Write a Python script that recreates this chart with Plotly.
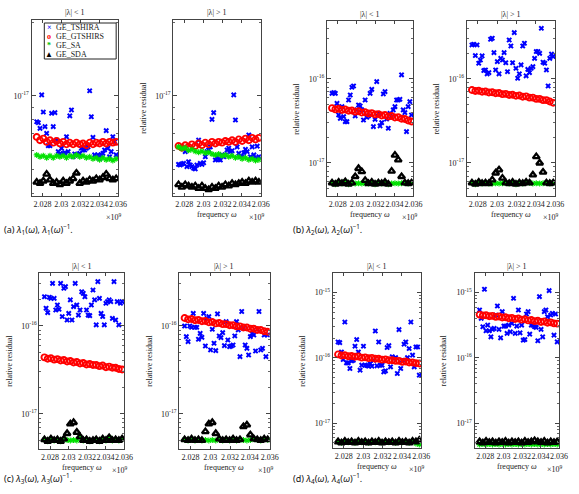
import plotly.graph_objects as go

W, H = 579, 494
SERIF = "Liberation Serif"
SANS = "Noto Sans"

# ---------------- data ----------------
freq_blue = [2.027400, 2.027575, 2.027750, 2.027925, 2.028100, 2.028275, 2.028450, 2.028625,
             2.028800, 2.028975, 2.029150, 2.029325, 2.029500, 2.029675, 2.029850, 2.030025,
             2.030200, 2.030375, 2.030550, 2.030725, 2.030900, 2.031075, 2.031250, 2.031425,
             2.031600, 2.031775, 2.031950, 2.032125, 2.032300, 2.032475, 2.032650, 2.032825,
             2.033000, 2.033175, 2.033350, 2.033525, 2.033700, 2.033875, 2.034050, 2.034225,
             2.034400, 2.034575, 2.034750, 2.034925, 2.035100, 2.035275, 2.035450, 2.035625,
             2.035800]
freq_band = [2.02740, 2.02775, 2.02810, 2.02845, 2.02880, 2.02915, 2.02950, 2.02985, 2.03020,
             2.03055, 2.03090, 2.03125, 2.03160, 2.03195, 2.03230, 2.03265, 2.03300, 2.03335,
             2.03370, 2.03405, 2.03440, 2.03475, 2.03510, 2.03545, 2.03580]

# (a) lambda_1, |lambda|<1   (units 1e-18)
tshira_a_lt = [7.85, 7.78, 7.38, 10.1, 8.6, 7.5, 7.04, 6.27, 6.27, 8.5,
               7.5, 8.55, 6.61, 5.93, 5.8, 6.12, 5.83, 5.86, 6.82, 5.93,
               8.3, 8.77, 5.65, 5.8, 5.75, 5.75, 5.83, 6.12, 6.02, 6.02,
               6.12, 6.2, 10.5, 8.23, 6.78, 5.75, 5.65, 5.75, 5.56, 5.75,
               5.83, 6.02, 7.22, 6.12, 5.65, 5.93, 6.82, 6.51, 5.75]
gtshirs_a_lt = [6.8, 6.6, 6.7, 6.5, 6.6, 6.45, 6.55, 6.4, 6.5, 6.35, 6.45, 6.35, 6.45,
                6.35, 6.4, 6.3, 6.45, 6.35, 6.45, 6.4, 6.5, 6.4, 6.5, 6.45, 6.5]
sa_a_lt = [5.75, 5.65, 5.7, 5.6, 5.7, 5.6, 5.7, 5.65, 5.7, 5.6, 5.7, 5.65, 5.75,
           5.65, 5.7, 5.6, 5.65, 5.55, 5.6, 5.5, 5.6, 5.5, 5.55, 5.45, 5.55]
sda_a_lt = [4.45, 4.4, 4.5, 4.8, 4.55, 4.4, 4.45, 4.35, 4.5, 4.4, 4.5, 4.6, 4.85,
            4.4, 4.5, 4.45, 4.55, 4.5, 4.6, 4.55, 4.65, 4.8, 4.6, 4.55, 4.6]

# (a) lambda_1, |lambda|>1   (units 1e-18)
tshira_a_gt = [5.26, 5.23, 5.28, 5.31, 5.93, 5.15, 5.39, 5.23, 5.15, 5.07,
               5.04, 5.23, 6.61, 5.31, 5.26, 5.34, 5.65, 5.93, 6.02, 6.2,
               8.03, 8.55, 5.48, 5.65, 5.51, 5.48, 5.75, 5.65, 5.75, 6.02,
               6.12, 5.93, 5.98, 10.1, 7.98, 6.2, 5.83, 5.65, 5.65, 5.87,
               6.06, 5.93, 6.93, 5.65, 6.2, 5.75, 5.56, 6.24, 5.65]
gtshirs_a_gt = [6.25, 6.15, 6.3, 6.2, 6.35, 6.25, 6.4, 6.3, 6.45, 6.35, 6.5, 6.4, 6.5,
                6.45, 6.55, 6.5, 6.6, 6.5, 6.65, 6.55, 6.7, 6.6, 6.75, 6.65, 6.75]
sa_a_gt = [6.2, 6.1, 6.15, 6.0, 6.05, 5.95, 5.9, 5.95, 5.85, 5.9, 5.8, 5.75, 5.8,
           5.7, 5.75, 5.65, 5.7, 5.6, 5.65, 5.55, 5.6, 5.5, 5.55, 5.45, 5.5]
sda_a_gt = [4.35, 4.25, 4.35, 4.3, 4.25, 4.3, 4.2, 4.3, 4.2, 4.15, 4.25, 4.2, 4.3,
            4.25, 4.35, 4.3, 4.4, 4.35, 4.4, 4.45, 4.4, 4.5, 4.45, 4.5, 4.45]

# (b) lambda_2, |lambda|<1   (units 1e-17)
tshira_b_lt = [6.75, 6.88, 6.75, 5.13, 3.73, 3.4, 4.69, 3.56, 3.11, 3.11,
               5.62, 6.45, 7.96, 8.25, 3.63, 4.28, 4.9, 4.77, 4.28, 3.25,
               5.62, 3.5, 3.63, 6.75, 7.53, 2.71, 3.31, 9.3, 3.9, 2.76,
               3.02, 6.63, 7.07, 3.34, 2.59, 3.9, 3.5, 4.28, 4.69, 5.62,
               5.62, 5.73, 11.2, 4.28, 3.97, 2.36, 4.69, 5.37, 3.73]
gtshirs_b_lt = [4.5, 4.35, 4.42, 4.28, 4.33, 4.18, 4.22, 4.08, 4.12, 3.98, 4.02, 3.88, 3.92,
                3.78, 3.82, 3.68, 3.72, 3.58, 3.62, 3.48, 3.5, 3.36, 3.34, 3.2, 3.12]
sa_b_lt = [0.58, 0.56, 0.59, 0.57, 0.6, 0.56, 0.58, 0.57, 0.575, 0.57, 0.575, 0.57, 0.59,
           0.56, 0.58, 0.57, 0.59, 0.56, 0.57, 0.575, 0.57, 0.575, 0.58, 0.57, 0.58]
sda_b_lt = [0.58, 0.56, 0.59, 0.57, 0.6, 0.56, 0.58, 0.69, 0.86, 0.79, 0.62, 0.57, 0.59,
            0.56, 0.58, 0.57, 0.59, 0.56, 0.8, 1.24, 1.09, 0.69, 0.58, 0.57, 0.58]

# (b) lambda_2, |lambda|>1   (units 1e-16)
tshira_b_gt = [2.54, 2.59, 1.90, 2.54, 1.54, 1.68, 1.88, 1.26, 1.28, 1.15,
               1.19, 2.97, 3.05, 2.06, 1.28, 1.61, 1.15, 1.76, 1.68, 2.06,
               1.56, 1.22, 2.91, 2.47, 1.56, 3.56, 1.34, 1.02, 1.15, 1.47,
               2.47, 2.66, 1.09, 1.30, 1.19, 1.34, 1.40, 1.76, 2.12, 2.12,
               2.02, 4.01, 1.58, 1.54, 1.28, 0.825, 1.76, 1.98, 1.85]
gtshirs_b_gt = [0.74, 0.72, 0.725, 0.705, 0.71, 0.69, 0.695, 0.675, 0.68, 0.66, 0.665, 0.645, 0.65,
                0.63, 0.635, 0.615, 0.62, 0.6, 0.6, 0.58, 0.58, 0.56, 0.56, 0.54, 0.52]
sa_b_gt = [0.058, 0.056, 0.059, 0.057, 0.058, 0.057, 0.057, 0.0575, 0.057, 0.0575, 0.058, 0.057, 0.059,
           0.056, 0.058, 0.057, 0.059, 0.058, 0.057, 0.0575, 0.057, 0.0575, 0.058, 0.057, 0.058]
sda_b_gt = [0.058, 0.056, 0.059, 0.057, 0.058, 0.057, 0.063, 0.076, 0.083, 0.066, 0.058, 0.057, 0.059,
            0.056, 0.058, 0.057, 0.059, 0.058, 0.072, 0.119, 0.100, 0.078, 0.058, 0.057, 0.058]

# (c) lambda_3, |lambda|<1   (units 1e-16)
tshira_c_lt = [2.15, 1.59, 1.42, 2.12, 2.06, 3.05, 2.06, 1.52, 1.73, 1.55,
               3.05, 1.28, 2.68, 2.80, 1.17, 1.39, 1.98, 1.17, 1.66, 3.05,
               1.73, 1.33, 1.52, 2.45, 2.35, 2.15, 1.52, 1.33, 1.31, 1.73,
               2.56, 1.98, 1.03, 3.19, 2.06, 1.39, 1.28, 1.03, 1.81, 1.89,
               1.98, 1.89, 1.22, 3.19, 1.17, 1.89, 1.03, 1.81, 1.89]
gtshirs_c_lt = [0.44, 0.425, 0.43, 0.415, 0.42, 0.405, 0.41, 0.395, 0.4, 0.385, 0.39, 0.375, 0.38,
                0.365, 0.37, 0.36, 0.36, 0.35, 0.355, 0.34, 0.345, 0.335, 0.335, 0.325, 0.32]
sa_c_lt = [0.051, 0.049, 0.052, 0.05, 0.051, 0.049, 0.052, 0.0505, 0.05, 0.0505, 0.05, 0.055, 0.05,
           0.051, 0.049, 0.05, 0.051, 0.049, 0.052, 0.05, 0.054, 0.05, 0.051, 0.05, 0.052]
sda_c_lt = [0.051, 0.049, 0.052, 0.05, 0.051, 0.049, 0.052, 0.06, 0.077, 0.08, 0.062, 0.055, 0.05,
            0.051, 0.049, 0.05, 0.051, 0.049, 0.052, 0.05, 0.054, 0.05, 0.051, 0.05, 0.052]

# (c) lambda_3, |lambda|>1   (units 1e-17)
tshira_c_gt = [10.0, 7.56, 6.64, 10.0, 9.66, 13.9, 9.66, 9.66, 7.06, 8.25,
               7.43, 13.9, 5.92, 12.2, 12.8, 5.34, 9.17, 6.36, 5.24, 13.7,
               7.7, 7.37, 8.4, 5.98, 11.2, 6.93, 5.82, 5.92, 6.08, 7.7,
               11.2, 9.01, 4.48, 14.6, 9.41, 6.08, 5.57, 4.68, 7.56, 8.25,
               7.9, 5.2, 9.17, 14.6, 5.34, 5.57, 7.9, 4.48, 7.9]
gtshirs_c_gt = [12.3, 11.9, 12.0, 11.6, 11.7, 11.3, 11.4, 11.0, 11.1, 10.7, 10.8, 10.5, 10.5,
                10.2, 10.2, 9.9, 9.9, 9.6, 9.6, 9.3, 9.3, 9.0, 9.0, 8.7, 8.6]
sa_c_gt = [0.51, 0.5, 0.52, 0.5, 0.51, 0.5, 0.505, 0.5, 0.505, 0.5, 0.52, 0.5, 0.51,
           0.5, 0.52, 0.5, 0.51, 0.505, 0.5, 0.505, 0.52, 0.51, 0.5, 0.52, 0.51]
sda_c_gt = [0.51, 0.5, 0.52, 0.5, 0.51, 0.5, 0.63, 0.77, 0.8, 0.6, 0.52, 0.5, 0.51,
            0.5, 0.52, 0.5, 0.51, 0.72, 0.75, 0.58, 0.52, 0.51, 0.5, 0.52, 0.51]

# (d) lambda_4, |lambda|<1   (units 1e-16)
tshira_d_lt = [1.75, 1.71, 1.23, 0.943, 3.54, 0.839, 0.839, 0.687, 0.9, 0.921,
               1.51, 1.91, 1.23, 0.648, 0.773, 1.51, 0.773, 0.764, 0.746, 0.819,
               0.746, 0.921, 2.58, 0.755, 1.75, 0.773, 0.773, 0.611, 0.633, 1.44,
               1.54, 0.729, 1.04, 0.977, 1.01, 0.576, 2.71, 0.687, 0.921, 1.62,
               1.75, 1.01, 1.39, 3.54, 1.10, 0.729, 1.47, 1.47, 0.544]
gtshirs_d_lt = [1.13, 1.09, 1.1, 1.06, 1.07, 1.04, 1.05, 1.01, 1.02, 0.99, 1.0, 0.97, 0.97,
                0.94, 0.95, 0.92, 0.92, 0.9, 0.9, 0.87, 0.88, 0.85, 0.85, 0.83, 0.82]
sa_d_lt = [0.052, 0.05, 0.053, 0.051, 0.052, 0.05, 0.053, 0.051, 0.052, 0.05, 0.052, 0.051, 0.053,
           0.05, 0.052, 0.051, 0.052, 0.05, 0.053, 0.051, 0.052, 0.05, 0.053, 0.049, 0.047]
sda_d_lt = [0.052, 0.05, 0.053, 0.051, 0.052, 0.05, 0.053, 0.051, 0.052, 0.05, 0.052, 0.051, 0.053,
            0.05, 0.052, 0.051, 0.052, 0.05, 0.053, 0.051, 0.052, 0.05, 0.053, 0.052, 0.055]

# (d) lambda_4, |lambda|>1   (units 1e-16)
tshira_d_gt = [5.41, 4.03, 3.0, 11.25, 2.6, 3.18, 2.6, 2.1, 2.73, 2.83,
               4.53, 6.23, 2.73, 2.03, 5.1, 3.07, 3.07, 2.37, 3.18, 2.51,
               3.38, 8.18, 2.37, 3.07, 5.41, 2.42, 3.18, 1.87, 1.91, 4.7,
               5.1, 2.31, 3.18, 3.18, 3.0, 2.93, 1.83, 8.68, 2.73, 2.1,
               5.1, 5.41, 4.27, 10.7, 4.53, 4.81, 2.23, 4.7, 1.76]
gtshirs_d_gt = [4.6, 4.45, 4.5, 4.35, 4.4, 4.25, 4.3, 4.15, 4.2, 4.05, 4.1, 3.95, 4.0,
                3.85, 3.9, 3.75, 3.8, 3.65, 3.7, 3.55, 3.6, 3.45, 3.5, 3.38, 3.35]
sa_d_gt = [0.047, 0.048, 0.047, 0.048, 0.047, 0.048, 0.047, 0.048, 0.047, 0.048, 0.047, 0.048, 0.047,
           0.048, 0.047, 0.048, 0.047, 0.048, 0.047, 0.048, 0.047, 0.048, 0.047, 0.048, 0.047]
sda_d_gt = [0.052, 0.05, 0.053, 0.051, 0.052, 0.05, 0.052, 0.051, 0.053, 0.05, 0.052, 0.051, 0.052,
            0.05, 0.053, 0.051, 0.052, 0.054, 0.052, 0.051, 0.053, 0.05, 0.052, 0.051, 0.052]

x_tickvals = [2.028, 2.030, 2.032, 2.034, 2.036]
x_ticktext = ["2.028", "2.03", "2.032", "2.034", "2.036"]
series_names = ["GE_TSHIRA", "GE_GTSHIRS", "GE_SA", "GE_SDA"]

# ---------------- layout of panels (pixel boxes) ----------------
panels = [
    dict(box=(32, 20, 120, 196), yr=(-17.408, -16.69), ydec=[-17], unit=1e-18, title="|λ| < 1",
         ylab=False, xlab=False, data=(tshira_a_lt, gtshirs_a_lt, sa_a_lt, sda_a_lt)),
    dict(box=(176, 20, 265, 196), yr=(-17.408, -16.69), ydec=[-17], unit=1e-18, title="|λ| > 1",
         ylab=True, xlab=True, data=(tshira_a_gt, gtshirs_a_gt, sa_a_gt, sda_a_gt)),
    dict(box=(332, 21, 420, 196), yr=(-17.393, -15.31), ydec=[-17, -16], unit=1e-17, title="|λ| < 1",
         ylab=True, xlab=True, data=(tshira_b_lt, gtshirs_b_lt, sa_b_lt, sda_b_lt)),
    dict(box=(474, 21, 564, 196), yr=(-17.393, -15.31), ydec=[-17, -16], unit=1e-16, title="|λ| > 1",
         ylab=True, xlab=True, data=(tshira_b_gt, gtshirs_b_gt, sa_b_gt, sda_b_gt)),
    dict(box=(40, 273, 126, 449), yr=(-17.398, -15.398), ydec=[-17, -16], unit=1e-16, title="|λ| < 1",
         ylab=True, xlab=True, data=(tshira_c_lt, gtshirs_c_lt, sa_c_lt, sda_c_lt)),
    dict(box=(182, 273, 274, 449), yr=(-17.398, -15.398), ydec=[-17, -16], unit=1e-17, title="|λ| > 1",
         ylab=True, xlab=True, data=(tshira_c_gt, gtshirs_c_gt, sa_c_gt, sda_c_gt)),
    dict(box=(338, 273, 428, 448), yr=(-17.38, -14.70), ydec=[-17, -16, -15], unit=1e-16, title="|λ| < 1",
         ylab=True, xlab=True, data=(tshira_d_lt, gtshirs_d_lt, sa_d_lt, sda_d_lt)),
    dict(box=(482, 273, 568, 448), yr=(-17.38, -14.70), ydec=[-17, -16, -15], unit=1e-16, title="|λ| > 1",
         ylab=True, xlab=True, data=(tshira_d_gt, gtshirs_d_gt, sa_d_gt, sda_d_gt)),
]

marker_styles = [
    dict(symbol="x", size=5, color="#0000ff", line=dict(width=0)),
    dict(symbol="circle-open", size=6, color="#ff0000", line=dict(width=1.9)),
    dict(symbol="asterisk-open", size=5, color="#00e000", line=dict(width=1.1, color="#00e000")),
    dict(symbol="triangle-up-open", size=6, color="#000000", line=dict(width=2.3)),
]

minor_vals = [m * 10.0 ** e for e in range(-19, -13) for m in range(2, 10)]

fig = go.Figure()
layout = {}
annotations = []


def ann(text, px, py, size=8, xanchor="center", yanchor="middle", angle=0, family=SERIF, color="#222222"):
    return dict(text=text, x=px / W, y=1 - py / H, xref="paper", yref="paper", showarrow=False,
                xanchor=xanchor, yanchor=yanchor, textangle=angle,
                font=dict(family=family, size=size, color=color))


for i, p in enumerate(panels, start=1):
    xa = "x" if i == 1 else f"x{i}"
    ya = "y" if i == 1 else f"y{i}"
    x0, y0, x1, y1 = p["box"]
    for k, vals in enumerate(p["data"]):
        xs = freq_blue if k == 0 else freq_band
        fig.add_trace(go.Scatter(
            x=xs, y=[v * p["unit"] for v in vals], mode="markers", name=series_names[k],
            xaxis=xa, yaxis=ya, marker=marker_styles[k], showlegend=False, hoverinfo="skip"))
    suffix = "" if i == 1 else str(i)
    layout["xaxis" + suffix] = dict(
        domain=[x0 / W, x1 / W], anchor=ya, range=[2.02685, 2.03601],
        tickvals=x_tickvals, ticktext=x_ticktext, tickangle=0,
        ticks="inside", ticklen=3, tickcolor="#444444", tickwidth=1,
        showline=True, linecolor="#444444", linewidth=1, mirror="ticks",
        showgrid=False, zeroline=False,
        tickfont=dict(family=SERIF, size=8, color="#222222"))
    layout["yaxis" + suffix] = dict(
        domain=[1 - y1 / H, 1 - y0 / H], anchor=xa, type="log", range=list(p["yr"]),
        tickvals=[10.0 ** d for d in p["ydec"]],
        ticktext=[f"10<sup>{d}</sup>" for d in p["ydec"]],
        ticks="inside", ticklen=4, tickcolor="#444444", tickwidth=1,
        minor=dict(tickvals=minor_vals, ticks="inside", ticklen=2, tickcolor="#666666"),
        showline=True, linecolor="#444444", linewidth=1, mirror="ticks",
        showgrid=False, zeroline=False,
        tickfont=dict(family=SERIF, size=8, color="#222222"))

    cx = (x0 + x1) / 2
    annotations.append(ann(p["title"], cx, y0 - 7, size=8))
    if p["ylab"]:
        annotations.append(ann("relative residual", x0 - 31, (y0 + y1) / 2, size=8, angle=-90))
    if p["xlab"]:
        annotations.append(ann("frequency <i>ω</i>", cx, y1 + 18, size=8))
    annotations.append(ann("×10<sup>9</sup>", x1 - 4, y1 + 21, size=8))

# captions
captions = [
    ("(a) <i>λ</i><sub>1</sub>(<i>ω</i>), <i>λ</i><sub>1</sub>(<i>ω</i>)<sup>−1</sup>.", 2, 229),
    ("(b) <i>λ</i><sub>2</sub>(<i>ω</i>), <i>λ</i><sub>2</sub>(<i>ω</i>)<sup>−1</sup>.", 296, 229),
    ("(c) <i>λ</i><sub>3</sub>(<i>ω</i>), <i>λ</i><sub>3</sub>(<i>ω</i>)<sup>−1</sup>.", 2, 478),
    ("(d) <i>λ</i><sub>4</sub>(<i>ω</i>), <i>λ</i><sub>4</sub>(<i>ω</i>)<sup>−1</sup>.", 296, 478),
]
for txt, px, py in captions:
    annotations.append(ann(txt, px, py, size=9, xanchor="left", family=SANS, color="#111111"))

# legend (inside first panel)
legend_box = (45, 23, 118, 59)
legend_glyphs = [("<b>×</b>", "#0000ff"), ("<b>o</b>", "#ff0000"), ("<b>*</b>", "#00c000"), ("▲", "#000000")]
legend_rows = [27.5, 36.5, 45.5, 54.0]
for (g, col), name, ry in zip(legend_glyphs, series_names, legend_rows):
    annotations.append(ann(g, 50, ry, size=8, color=col))
    annotations.append(ann(name, 55, ry, size=8, xanchor="left"))

shapes = [dict(type="rect", xref="paper", yref="paper",
               x0=legend_box[0] / W, x1=legend_box[2] / W,
               y0=1 - legend_box[3] / H, y1=1 - legend_box[1] / H,
               line=dict(color="#222222", width=1), fillcolor="white", layer="above")]

fig.update_layout(width=W, height=H, margin=dict(l=0, r=0, t=0, b=0), autosize=False,
                  paper_bgcolor="white", plot_bgcolor="white", showlegend=False,
                  annotations=annotations, shapes=shapes, **layout)

fig.write_html("out.html")
